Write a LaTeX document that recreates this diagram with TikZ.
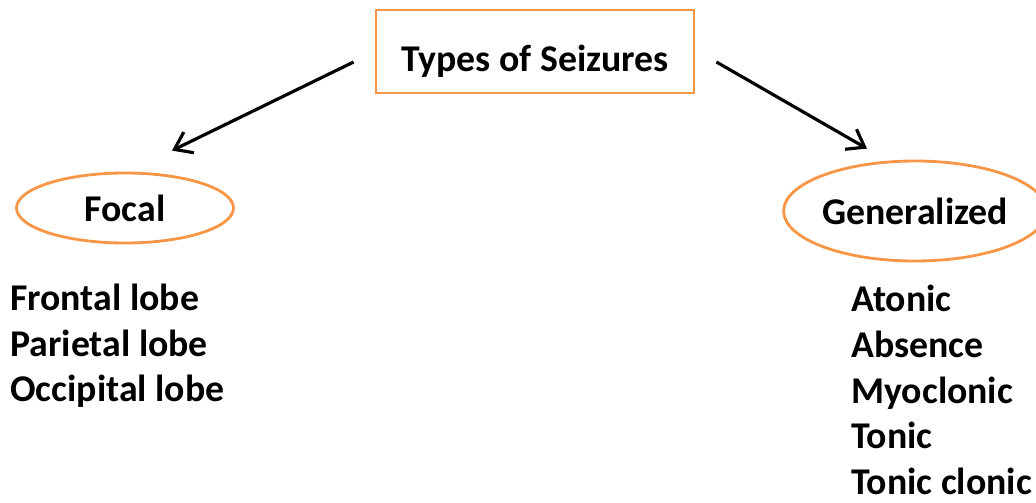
\documentclass[tikz,border=0pt]{standalone}
\usepackage{fontspec}
\setmainfont{Carlito}
\usetikzlibrary{arrows.meta, shapes.geometric, positioning}
\definecolor{boxorange}{HTML}{F79646}

\begin{document}
\begin{tikzpicture}[font=\fontsize{21.5}{26}\selectfont\bfseries,
                    typebox/.style={draw=boxorange, line width=1.6pt, minimum width=6.36cm, minimum height=1.66cm,
                                    text height=0.93cm, text depth=0.15cm},
                    kind/.style={ellipse, draw=boxorange, line width=1.6pt, inner sep=0pt},
                    sublist/.style={align=left, anchor=west, inner sep=0pt},
                    branch/.style={-{Straight Barb[length=3.2mm, width=4.6mm]}, line width=1.8pt}]
                    \useasboundingbox (0,0) rectangle (20.72,-10.04);
                    \node (Types) [typebox] at (10.7,-1.03) {Types of Seizures};
                    \node (Focal) [kind, minimum width=4.34cm, minimum height=1.4cm] at (2.5,-4.16) {Focal};
                    \node (Generalized) [kind, minimum width=5.2cm, minimum height=2.0cm] at (18.3,-4.22) {Generalized};
                    \node (FocalList) [sublist] at (0.2,-6.92) {Frontal lobe\\Parietal lobe\\Occipital lobe};
                    \node (GenList) [sublist] at (17.02,-7.8) {Atonic\\Absence\\Myoclonic\\Tonic\\Tonic clonic};
                    \draw [branch] ([xshift=-0.42cm, yshift=-0.21cm]Types.west) -- ([xshift=0.94cm, yshift=0.42cm]Focal.north);
                    \draw [branch] ([xshift=0.42cm, yshift=-0.21cm]Types.east) -- ([xshift=-0.96cm, yshift=0.22cm]Generalized.north);
                \end{tikzpicture}
\end{document}
